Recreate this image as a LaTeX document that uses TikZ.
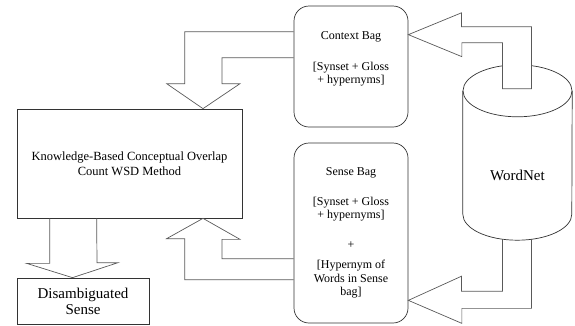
\documentclass[tikz,border=0pt]{standalone}
\usepackage{fontspec}
\setmainfont{Liberation Serif}
\usetikzlibrary{shapes.geometric}
\usetikzlibrary{positioning}
\usetikzlibrary{calc}

\begin{document}
\begin{tikzpicture}[x=1pt,y=-1pt,
    bagbox/.style={draw=black!80, line width=0.7pt, rounded corners=15pt, align=center, font=\fontsize{12}{13.5}\selectfont, minimum width=114pt},
    plainbox/.style={draw=black!80, line width=0.7pt, align=center},
    dbline/.style={draw=black!80, line width=0.7pt},
    blockarrow/.style={draw=black!65, line width=0.7pt, line join=miter}]
    \useasboundingbox (0,0) rectangle (575,325);

    % bags built from WordNet
    \node[bagbox, minimum height=121pt] (ctxbag) at (351,66.5) {Context Bag\\[17pt]{}[Synset + Gloss\\+ hypernyms]\\[4pt]};
    \node[bagbox, minimum height=180pt] (sensebag) at (351,233) {Sense Bag\\[16pt]{}[Synset + Gloss\\+ hypernyms]\\[16pt]+\\[7pt]{}[Hypernym of\\Words in Sense\\bag]};

    % WSD method and its output
    \node[plainbox, minimum width=225pt, minimum height=109pt, font=\fontsize{12.5}{15}\selectfont] (method) at (129.5,163.5) {Knowledge-Based Conceptual Overlap\\Count WSD Method};
    \node[plainbox, minimum width=132pt, minimum height=46pt, font=\fontsize{15}{16}\selectfont] (result) at (83,301) {Disambiguated\\Sense};

    % lexical database (cylinder drawn round the node)
    \node[minimum width=109pt, minimum height=175pt, inner sep=0pt,
          label={[font=\fontsize{15}{16}\selectfont, yshift=-23pt]center:WordNet}] (wordnet) at (517.5,152.5) {};
    \draw[dbline] ($(wordnet.north west)+(0,26)$) -- ($(wordnet.south west)+(0,-26)$) arc[start angle=180, end angle=0, x radius=54.5, y radius=26] -- ($(wordnet.north east)+(0,26)$);
    \draw[dbline] ($(wordnet.north)+(0,26)$) ellipse[x radius=54.5, y radius=26];

    % block arrows
    \draw[blockarrow, fill=white] ($(wordnet.north)+(-15,24)$) -- ++(29,0) |- ++(-70,-62) -- ++(0,-14) -- ($(ctxbag.north east)+(0,29)$) -- ++(53.5,22) -- ++(0,-14) -| ($(wordnet.north)+(-15,24)$) -- cycle;
    \draw[blockarrow] ($(wordnet.south)+(-15,-1)$) |- ++(-41,52) -- ++(0,-15) -- ($(sensebag.south east)+(0,-23)$) -- ++(53.5,23) -- ++(0,-15) -| ($(wordnet.south)+(14,-1)$);
    \draw[blockarrow] ($(ctxbag.north west)+(0,26)$) -| ++(-109,52) -- ++(-18,0) -- ($(method.north)+(73.5,0)$) -- ++(37,-25) -- ++(-18,0) |- ($(ctxbag.north west)+(0,52)$);
    \draw[blockarrow] ($(sensebag.north west)+(0,137)$) -| ++(-109,-41) -- ++(-18,0) -- ($(method.south)+(73.5,0)$) -- ++(37,21) -- ++(-18,0) |- ($(sensebag.north west)+(0,116)$);
    \draw[blockarrow] ($(method.south west)+(33,0)$) -- ++(0,45) -- ++(-23,0) -- ($(result.north)+(-10.5,0)$) -- ++(45.5,-15) -- ++(-21,0) -- ($(method.south west)+(80,0)$);
\end{tikzpicture}
\end{document}
